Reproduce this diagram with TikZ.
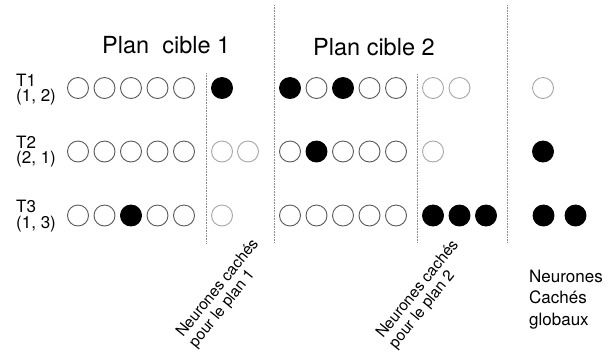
\documentclass[tikz,border=0pt]{standalone}
\usepackage{fontspec}
\setmainfont{TeX Gyre Heros}
\begin{document}
\begin{tikzpicture}[x=1pt,y=-1pt,
  neu/.style={circle, minimum size=21pt, inner sep=0pt, line width=0.9pt},
  wn/.style={neu, draw=black!65},
  hn/.style={neu, draw=black!35},
  bn/.style={neu, fill=black, draw=black},
  sepline/.style={draw=black!45, densely dotted, line width=0.6pt},
  tlab/.style={font=\fontsize{17}{15.5}\selectfont, align=left, inner sep=0pt, anchor=base west},
  ttl/.style={font=\fontsize{23.5}{28}\selectfont, inner sep=0pt, anchor=base west},
  rot/.style={font=\fontsize{15.5}{18}\selectfont, inner sep=0pt, anchor=base west, rotate=51},
  glob/.style={font=\fontsize{17}{21.5}\selectfont, align=left, inner sep=0pt, anchor=base west}
]
\useasboundingbox (0,0) rectangle (615,360);
% titles
\node[ttl] (title1) at (102,53) {Plan\ \ cible 1};
\node[ttl] (title2) at (313,55) {Plan cible 2};
% row labels (anchor = baseline of last line)
\node[tlab] (T1) at (16,101.5) {T1\\(1, 2)};
\node[tlab] (T2) at (16,163.5) {T2\\(2, 1)};
\node[tlab] (T3) at (16,228) {T3\\(1, 3)};
% separators
\coordinate (s1t) at (206.5,73);  \coordinate (s1b) at (206.5,243);
\coordinate (s2t) at (274.5,5);   \coordinate (s2b) at (274.5,242);
\coordinate (s3t) at (417,74);    \coordinate (s3b) at (417,243);
\coordinate (s4t) at (507,5);     \coordinate (s4b) at (507,242);
\draw[sepline] (s1t) -- (s1b);
\draw[sepline] (s2t) -- (s2b);
\draw[sepline] (s3t) -- (s3b);
\draw[sepline] (s4t) -- (s4b);
% row 1
\node[wn] (a11) at (78,88) {};
\node[wn] (a12) at (104.5,88) {};
\node[wn] (a13) at (131,88) {};
\node[wn] (a14) at (157.5,88) {};
\node[wn] (a15) at (184,88) {};
\node[bn] (h11) at (222,88) {};
\node[bn] (b11) at (290,88) {};
\node[wn] (b12) at (316.5,88) {};
\node[bn] (b13) at (343,88) {};
\node[wn] (b14) at (369.5,88) {};
\node[wn] (b15) at (396,88) {};
\node[hn] (k11) at (433,88) {};
\node[hn] (k12) at (459.5,88) {};
\node[hn] (g11) at (543,88) {};
% row 2
\node[wn] (a21) at (78,151.5) {};
\node[wn] (a22) at (104.5,151.5) {};
\node[wn] (a23) at (131,151.5) {};
\node[wn] (a24) at (157.5,151.5) {};
\node[wn] (a25) at (184,151.5) {};
\node[hn] (h21) at (222,151.5) {};
\node[hn] (h22) at (248,151.5) {};
\node[wn] (b21) at (290,151.5) {};
\node[bn] (b22) at (316.5,151.5) {};
\node[wn] (b23) at (343,151.5) {};
\node[wn] (b24) at (369.5,151.5) {};
\node[wn] (b25) at (396,151.5) {};
\node[hn] (k21) at (433,151.5) {};
\node[bn] (g21) at (543,151.5) {};
% row 3
\node[wn] (a31) at (78,215.5) {};
\node[wn] (a32) at (104.5,215.5) {};
\node[bn] (a33) at (131,215.5) {};
\node[wn] (a34) at (157.5,215.5) {};
\node[wn] (a35) at (184,215.5) {};
\node[hn] (h31) at (222,215.5) {};
\node[wn] (b31) at (290,215.5) {};
\node[wn] (b32) at (316.5,215.5) {};
\node[wn] (b33) at (343,215.5) {};
\node[wn] (b34) at (369.5,215.5) {};
\node[wn] (b35) at (396,215.5) {};
\node[bn] (k31) at (433,215.5) {};
\node[bn] (k32) at (459.5,215.5) {};
\node[bn] (k33) at (486,215.5) {};
\node[bn] (g31) at (543.5,215.5) {};
\node[bn] (g32) at (575.5,215.5) {};
% rotated captions
\node[rot] (c1a) at (183,338) {Neurones cachés};
\node[rot] (c1b) at (195.8,348.3) {pour le plan 1};
\node[rot] (c2a) at (383,339) {Neurones cachés};
\node[rot] (c2b) at (395.8,349.3) {pour le plan 2};
% global caption (anchor = baseline of last line)
\node[glob] (gl) at (529,325) {Neurones\\Cachés\\globaux};
\end{tikzpicture}
\end{document}
